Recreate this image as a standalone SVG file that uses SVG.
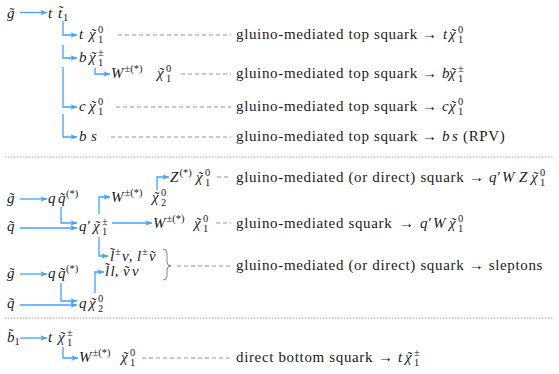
<svg xmlns="http://www.w3.org/2000/svg" width="559" height="374" viewBox="0 0 559 374" font-family="Liberation Serif">
<defs>
<marker id="ah" markerWidth="8" markerHeight="8" refX="7" refY="4" orient="auto" markerUnits="userSpaceOnUse"><path d="M0.5,1.2 L7,4 L0.5,6.8 L2.2,4 Z" fill="#42a0ff" stroke="none"/></marker>
</defs>
<rect width="559" height="374" fill="#ffffff"/>

<g id="connectors">
<g fill="none" stroke="#42a0ff" stroke-width="1.3" marker-end="url(#ah)">
<path d="M20 12.5 H47"/>
<path d="M63 21 V35 H77"/>
<path d="M63 45 V58 H77"/>
<path d="M95 68 V74 H110"/>
<path d="M63 67 V107 H77"/>
<path d="M63 114 V137 H77"/>
<path d="M20 199 H47"/>
<path d="M20 228 H77"/>
<path d="M61 207 V223 H77"/>
<path d="M99 214 V197 H110"/>
<path d="M157 190 V177 H169"/>
<path d="M112 223 H152"/>
<path d="M99 237 V256 H108"/>
<path d="M20 274 H47"/>
<path d="M20 305 H77"/>
<path d="M61 283 V301 H77"/>
<path d="M95 293 V272 H104"/>
<path d="M20 338 H47"/>
<path d="M63 347 V358 H78"/>
</g>
<g fill="none" stroke="#7a7a7a" stroke-width="0.8" stroke-dasharray="4 3">
<path d="M118 35 H231"/>
<path d="M181 74 H231"/>
<path d="M116 107 H231"/>
<path d="M111 137 H231"/>
<path d="M217 177 H231"/>
<path d="M216 223 H231"/>
<path d="M177 266 H231"/>
<path d="M142 358 H229"/>
</g>
<g fill="none" stroke="#9a9a9a" stroke-width="0.9" stroke-dasharray="1.5 1.5">
<path d="M5 157 H553"/>
<path d="M5 318 H553"/>
</g>
<path d="M163 249 Q167 249 167 253 L167 262 Q167 266 171 266 Q167 266 167 270 L167 276 Q167 280 163 280" fill="none" stroke="#666" stroke-width="0.8"/>
</g>

<g font-size="15" fill="#1a1a1a">
<g id="gluino-top"><text font-family="Times New Roman" font-style="italic" x="7" y="18">g<tspan font-style="normal" x="9.5" y="18">˜</tspan></text></g>
<g id="stop"><text font-family="Times New Roman" font-style="italic" x="48" y="18">t<tspan x="58">t</tspan><tspan font-style="normal" x="58.5" y="15.5">˜</tspan><tspan font-size="10.5" font-style="normal" x="63" y="21">1</tspan></text></g>
<g id="t-chi0"><text font-family="Times New Roman" font-style="italic" x="79" y="39">t<tspan x="89">χ</tspan><tspan font-style="normal" x="91.5">˜</tspan><tspan font-size="10.5" font-style="normal" x="98" y="33">0</tspan><tspan font-size="10.5" font-style="normal" x="98" y="42.5">1</tspan></text></g>
<g id="b-chipm"><text font-family="Times New Roman" font-style="italic" x="79" y="62">b<tspan x="89">χ</tspan><tspan font-style="normal" x="91.5">˜</tspan><tspan font-size="10.5" font-style="normal" x="98" y="56">±</tspan><tspan font-size="10.5" font-style="normal" x="98" y="65.5">1</tspan></text></g>
<g id="W-chi0-a"><text font-family="Times New Roman" font-style="italic" x="111" y="78">W<tspan font-size="10.5" font-style="normal" x="124.5" y="72">±(*)</tspan><tspan x="157" y="78">χ</tspan><tspan font-style="normal" x="159.5">˜</tspan><tspan font-size="10.5" font-style="normal" x="166" y="72">0</tspan><tspan font-size="10.5" font-style="normal" x="166" y="81.5">1</tspan></text></g>
<g id="c-chi0"><text font-family="Times New Roman" font-style="italic" x="79" y="111">c<tspan x="89">χ</tspan><tspan font-style="normal" x="91.5">˜</tspan><tspan font-size="10.5" font-style="normal" x="98" y="105">0</tspan><tspan font-size="10.5" font-style="normal" x="98" y="114.5">1</tspan></text></g>
<g id="b-s"><text font-family="Times New Roman" font-style="italic" x="79" y="141">b<tspan x="91">s</tspan></text></g>

<g id="label-1"><text font-family="Times New Roman" letter-spacing="0.65" x="236" y="39">gluino-mediated top squark <tspan letter-spacing="0" x="422">→</tspan><tspan letter-spacing="0" font-style="italic" x="443">t</tspan><tspan letter-spacing="0" font-style="italic" x="449">χ</tspan><tspan letter-spacing="0" x="451.5">˜</tspan><tspan font-size="10.5" x="458" y="33">0</tspan><tspan font-size="10.5" x="458" y="42.5">1</tspan></text></g>
<g id="label-2"><text font-family="Times New Roman" letter-spacing="0.65" x="236" y="78">gluino-mediated top squark <tspan letter-spacing="0" x="422">→</tspan><tspan letter-spacing="0" font-style="italic" x="442">b</tspan><tspan letter-spacing="0" font-style="italic" x="449">χ</tspan><tspan letter-spacing="0" x="451.5">˜</tspan><tspan font-size="10.5" x="458" y="72">±</tspan><tspan font-size="10.5" x="458" y="81.5">1</tspan></text></g>
<g id="label-3"><text font-family="Times New Roman" letter-spacing="0.65" x="236" y="111">gluino-mediated top squark <tspan letter-spacing="0" x="422">→</tspan><tspan letter-spacing="0" font-style="italic" x="442">c</tspan><tspan letter-spacing="0" font-style="italic" x="449">χ</tspan><tspan letter-spacing="0" x="451.5">˜</tspan><tspan font-size="10.5" x="458" y="105">0</tspan><tspan font-size="10.5" x="458" y="114.5">1</tspan></text></g>
<g id="label-4"><text font-family="Times New Roman" letter-spacing="0.65" x="236" y="141">gluino-mediated top squark <tspan letter-spacing="0" x="422">→</tspan><tspan letter-spacing="0" font-style="italic" x="442">b</tspan><tspan letter-spacing="0" font-style="italic" x="452">s</tspan><tspan x="463">(RPV)</tspan></text></g>

<g id="gluino-mid1"><text font-family="Times New Roman" font-style="italic" x="7" y="203">g<tspan font-style="normal" x="9.5" y="203">˜</tspan></text></g>
<g id="q-sq1"><text font-family="Times New Roman" font-style="italic" x="48" y="203">q<tspan x="58">q</tspan><tspan font-style="normal" x="60">˜</tspan><tspan font-size="10.5" font-style="normal" x="66" y="197">(*)</tspan></text></g>
<g id="squark-mid1"><text font-family="Times New Roman" font-style="italic" x="7" y="231">q<tspan font-style="normal" x="9" y="231">˜</tspan></text></g>
<g id="qp-chipm"><text font-family="Times New Roman" font-style="italic" x="79" y="231">q′<tspan x="93">χ</tspan><tspan font-style="normal" x="95.5">˜</tspan><tspan font-size="10.5" font-style="normal" x="102" y="225">±</tspan><tspan font-size="10.5" font-style="normal" x="102" y="234.5">1</tspan></text></g>
<g id="W-chi02"><text font-family="Times New Roman" font-style="italic" x="111" y="202">W<tspan font-size="10.5" font-style="normal" x="124.5" y="196">±(*)</tspan><tspan x="152" y="202">χ</tspan><tspan font-style="normal" x="154.5">˜</tspan><tspan font-size="10.5" font-style="normal" x="161" y="196">0</tspan><tspan font-size="10.5" font-style="normal" x="161" y="205.5">2</tspan></text></g>
<g id="Z-chi0"><text font-family="Times New Roman" font-style="italic" x="170" y="182">Z<tspan font-size="10.5" font-style="normal" x="179.5" y="176">(*)</tspan><tspan x="196" y="182">χ</tspan><tspan font-style="normal" x="198.5">˜</tspan><tspan font-size="10.5" font-style="normal" x="205" y="176">0</tspan><tspan font-size="10.5" font-style="normal" x="205" y="185.5">1</tspan></text></g>
<g id="W-chi0-b"><text font-family="Times New Roman" font-style="italic" x="153" y="228">W<tspan font-size="10.5" font-style="normal" x="166.5" y="222">±(*)</tspan><tspan x="194" y="228">χ</tspan><tspan font-style="normal" x="196.5">˜</tspan><tspan font-size="10.5" font-style="normal" x="203" y="222">0</tspan><tspan font-size="10.5" font-style="normal" x="203" y="231.5">1</tspan></text></g>
<g id="sleptons-pm"><text font-family="Times New Roman" font-style="italic" x="110" y="261">l<tspan font-style="normal" x="110" y="257.5">˜</tspan><tspan font-size="10.5" font-style="normal" x="115" y="255">±</tspan><tspan x="122" y="261">ν,</tspan><tspan x="137">l</tspan><tspan font-size="10.5" font-style="normal" x="142" y="255">±</tspan><tspan x="149" y="261">ν</tspan><tspan font-style="normal" x="150.5">˜</tspan></text></g>
<g id="gluino-mid2"><text font-family="Times New Roman" font-style="italic" x="7" y="278">g<tspan font-style="normal" x="9.5" y="278">˜</tspan></text></g>
<g id="q-sq2"><text font-family="Times New Roman" font-style="italic" x="48" y="278">q<tspan x="58">q</tspan><tspan font-style="normal" x="60">˜</tspan><tspan font-size="10.5" font-style="normal" x="66" y="272">(*)</tspan></text></g>
<g id="sleptons-ll"><text font-family="Times New Roman" font-style="italic" x="105" y="276">l<tspan font-style="normal" x="105" y="272.5">˜</tspan><tspan x="110.5" y="276">l,</tspan><tspan x="123">ν</tspan><tspan font-style="normal" x="124.5">˜</tspan><tspan x="132">ν</tspan></text></g>
<g id="squark-mid2"><text font-family="Times New Roman" font-style="italic" x="7" y="308">q<tspan font-style="normal" x="9" y="308">˜</tspan></text></g>
<g id="q-chi02"><text font-family="Times New Roman" font-style="italic" x="79" y="308">q<tspan x="89">χ</tspan><tspan font-style="normal" x="91.5">˜</tspan><tspan font-size="10.5" font-style="normal" x="98" y="302">0</tspan><tspan font-size="10.5" font-style="normal" x="98" y="311.5">2</tspan></text></g>

<g id="label-5"><text font-family="Times New Roman" letter-spacing="0.65" x="236" y="182">gluino-mediated (or direct) squark <tspan letter-spacing="0" x="469">→</tspan><tspan letter-spacing="0" font-style="italic" x="489">q′</tspan><tspan letter-spacing="0" font-style="italic" x="502">W</tspan><tspan letter-spacing="0" font-style="italic" x="519">Z</tspan><tspan letter-spacing="0" font-style="italic" x="531">χ</tspan><tspan letter-spacing="0" x="533.5">˜</tspan><tspan font-size="10.5" x="540" y="176">0</tspan><tspan font-size="10.5" x="540" y="185.5">1</tspan></text></g>
<g id="label-6"><text font-family="Times New Roman" letter-spacing="0.65" x="236" y="228">gluino-mediated squark <tspan letter-spacing="0" x="399">→</tspan><tspan letter-spacing="0" font-style="italic" x="420">q′</tspan><tspan letter-spacing="0" font-style="italic" x="433">W</tspan><tspan letter-spacing="0" font-style="italic" x="449">χ</tspan><tspan letter-spacing="0" x="451.5">˜</tspan><tspan font-size="10.5" x="458" y="222">0</tspan><tspan font-size="10.5" x="458" y="231.5">1</tspan></text></g>
<g id="label-7"><text font-family="Times New Roman" letter-spacing="0.65" x="236" y="270">gluino-mediated (or direct) squark → sleptons</text></g>

<g id="sbottom"><text font-family="Times New Roman" font-style="italic" x="7" y="342">b<tspan font-style="normal" x="8.5" y="338.5">˜</tspan><tspan font-size="10.5" font-style="normal" x="14.5" y="345">1</tspan></text></g>
<g id="t-chipm"><text font-family="Times New Roman" font-style="italic" x="48" y="342">t<tspan x="58">χ</tspan><tspan font-style="normal" x="60.5">˜</tspan><tspan font-size="10.5" font-style="normal" x="67" y="336">±</tspan><tspan font-size="10.5" font-style="normal" x="67" y="345.5">1</tspan></text></g>
<g id="W-chi0-c"><text font-family="Times New Roman" font-style="italic" x="79" y="362">W<tspan font-size="10.5" font-style="normal" x="92.5" y="356">±(*)</tspan><tspan x="121" y="362">χ</tspan><tspan font-style="normal" x="123.5">˜</tspan><tspan font-size="10.5" font-style="normal" x="130" y="356">0</tspan><tspan font-size="10.5" font-style="normal" x="130" y="365.5">1</tspan></text></g>
<g id="label-8"><text font-family="Times New Roman" letter-spacing="0.65" x="236" y="362">direct bottom squark <tspan letter-spacing="0" x="378">→</tspan><tspan letter-spacing="0" font-style="italic" x="398">t</tspan><tspan letter-spacing="0" font-style="italic" x="405">χ</tspan><tspan letter-spacing="0" x="407.5">˜</tspan><tspan font-size="10.5" x="414" y="356">±</tspan><tspan font-size="10.5" x="414" y="365.5">1</tspan></text></g>
</g>
</svg>
